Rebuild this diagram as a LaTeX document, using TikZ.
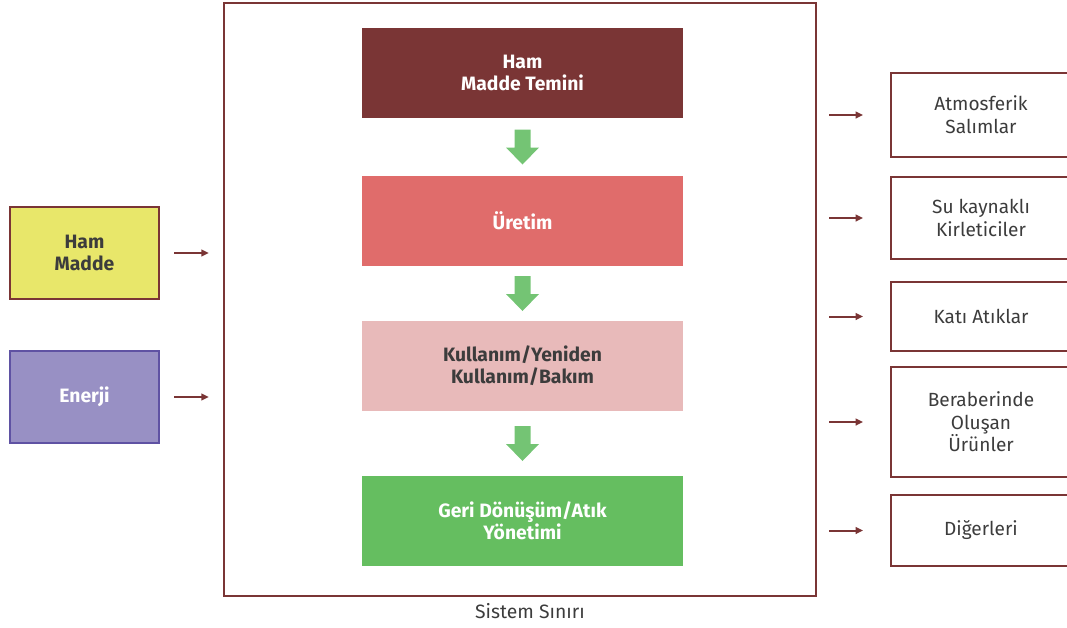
\documentclass[tikz,border=0pt]{standalone}
\usepackage{fontspec}
\setmainfont{Fira Sans}
\usepackage{tikz}
\usetikzlibrary{positioning, arrows.meta, calc}
\definecolor{sysRed}{RGB}{122, 53, 53}
\definecolor{stgCoral}{RGB}{224, 108, 107}
\definecolor{stgPink}{RGB}{232, 186, 186}
\definecolor{stgGreen}{RGB}{101, 190, 96}
\definecolor{flowGreen}{RGB}{116, 196, 116}
\definecolor{inYellow}{RGB}{232, 231, 106}
\definecolor{inPurple}{RGB}{152, 144, 196}
\definecolor{inPurpleDark}{RGB}{95, 82, 163}
\definecolor{txtGray}{RGB}{60, 60, 60}

\begin{document}
\begin{tikzpicture}[x=0.75pt, y=-0.75pt,
        font=\fontsize{14.5}{16.5}\selectfont,
        stage/.style={minimum width=240.75pt, minimum height=67.5pt, inner sep=0pt,
            align=center, text=white, font=\fontsize{14.5}{16.5}\selectfont\bfseries},
        inbox/.style={draw, line width=1.8pt, minimum width=111.75pt, minimum height=69pt,
            inner sep=0pt, align=center, font=\fontsize{14.5}{17}\selectfont\bfseries},
        outbox/.style={draw=sysRed, line width=1.9pt, minimum width=135pt, inner sep=0pt,
            align=center, text=txtGray, font=\fontsize{14.3}{17}\selectfont},
        flowto/.style={sysRed, line width=1.5pt, -{Triangle[length=5.5pt, width=5pt]}}]
        \useasboundingbox (0,0) rectangle (1067,628);
        \clip (0,0) rectangle (1067,628);
        % system boundary
        \node[draw=sysRed, line width=1.8pt, minimum width=444pt, minimum height=445pt,
            inner sep=0pt] (sinir) at (520,299.5) {};
        \node[text=txtGray] (sinirlbl) at (530,611) {Sistem Sınırı};
        % life cycle stages
        \node[stage, fill=sysRed] (temin) at (522.5,73) {Ham\\Madde Temini};
        \node[stage, fill=stgCoral] (uretim) at (522.5,221) {Üretim};
        \node[stage, fill=stgPink, text=txtGray] (kullanim) at (522.5,366) {Kullanım/Yeniden\\Kullanım/Bakım};
        \node[stage, fill=stgGreen] (geri) at (522.5,521) {Geri Dönüşüm/Atık\\Yönetimi};
        \foreach \a/\b in {temin/uretim, uretim/kullanim, kullanim/geri}
            \fill[flowGreen] ($(\a.south)!0.5!(\b.north)$) ++(-8,-17.5) -- ++(16,0) -- ++(0,18)
                -- ++(8.5,0) -- ++(-16.5,17) -- ++(-16.5,-17) -- ++(8.5,0) -- cycle;
        % inputs
        \node[inbox, draw=sysRed, fill=inYellow, text=txtGray] (hammadde) at (84.5,253) {Ham\\Madde};
        \node[inbox, draw=inPurpleDark, fill=inPurple, text=white] (enerji) at (84.5,397) {Enerji};
        \foreach \n in {hammadde, enerji}
            \draw[flowto] ([xshift=10.5pt]\n.east) -- ([xshift=-10.5pt]\n.east -| sinir.west);
        % outputs
        \node[outbox, minimum height=63pt] (atmosfer) at (981,115) {Atmosferik\\Salımlar};
        \node[outbox, minimum height=61.5pt] (su) at (981,218) {Su kaynaklı\\Kirleticiler};
        \node[outbox, minimum height=51.75pt] (kati) at (981,316.5) {Katı Atıklar};
        \node[outbox, minimum height=82.5pt] (yanurun) at (981,422) {Beraberinde\\Oluşan\\Ürünler};
        \node[outbox, minimum height=53.25pt] (diger) at (981,530.5) {Diğerleri};
        \foreach \n in {atmosfer, su, kati, yanurun, diger}
            \draw[flowto] ([xshift=9pt]sinir.east |- \n.west) -- ([xshift=-20pt]\n.west);
    \end{tikzpicture}
\end{document}
